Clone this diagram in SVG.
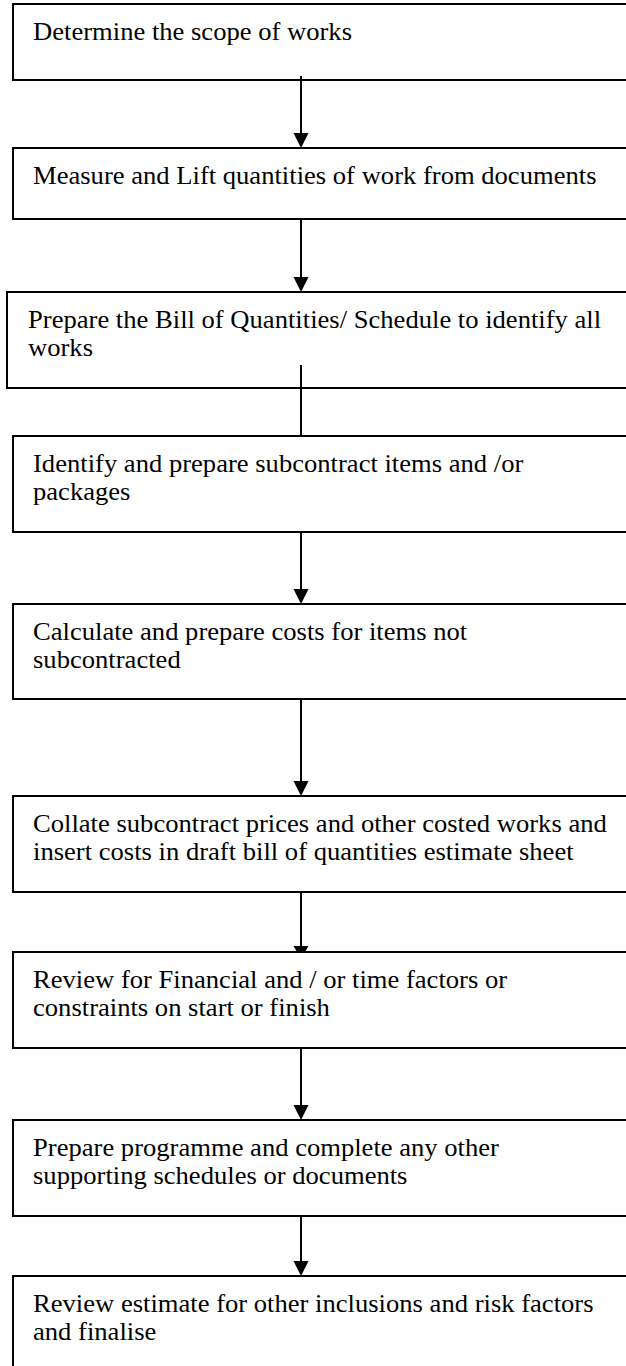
<svg xmlns="http://www.w3.org/2000/svg" width="626" height="1366" viewBox="0 0 626 1366">
<style>
.box{fill:#fff;stroke:#000;stroke-width:2}
.t{font-family:"Liberation Serif","Times New Roman",serif;font-size:24.5px;fill:#000}
.c{stroke:#000;stroke-width:2;fill:none}
.h{fill:#000;stroke:none}
</style>
<rect width="626" height="1366" fill="#fff"/>
<g id="n1"><rect class="box" x="13" y="4" width="630" height="76"/><text class="t" transform="scale(1.086 1)" x="30.4" y="40">Determine the scope of works</text></g>
<g id="n2"><rect class="box" x="13" y="148" width="630" height="71"/><text class="t" transform="scale(1.086 1)" x="30.4" y="184">Measure and Lift quantities of work from documents</text></g>
<g id="n3"><rect class="box" x="7" y="292" width="636" height="96"/><text class="t" transform="scale(1.086 1)" x="25.8" y="328">Prepare the Bill of Quantities/ Schedule to identify all</text><text class="t" transform="scale(1.086 1)" x="25.8" y="356">works</text></g>
<g id="n4"><rect class="box" x="13" y="436" width="630" height="96"/><text class="t" transform="scale(1.086 1)" x="30.4" y="472">Identify and prepare subcontract items and /or</text><text class="t" transform="scale(1.086 1)" x="30.4" y="500">packages</text></g>
<g id="n5"><rect class="box" x="13" y="604" width="630" height="95"/><text class="t" transform="scale(1.086 1)" x="30.4" y="640">Calculate and prepare costs for items not</text><text class="t" transform="scale(1.086 1)" x="30.4" y="668">subcontracted</text></g>
<g id="n6"><rect class="box" x="13" y="796" width="630" height="96"/><text class="t" transform="scale(1.086 1)" x="30.4" y="832">Collate subcontract prices and other costed works and</text><text class="t" transform="scale(1.086 1)" x="30.4" y="860">insert costs in draft bill of quantities estimate sheet</text></g>
<g id="n7"><rect class="box" x="13" y="952" width="630" height="96"/><text class="t" transform="scale(1.086 1)" x="30.4" y="988">Review for Financial and / or time factors or</text><text class="t" transform="scale(1.086 1)" x="30.4" y="1016">constraints on start or finish</text></g>
<g id="n8"><rect class="box" x="13" y="1120" width="630" height="96"/><text class="t" transform="scale(1.086 1)" x="30.4" y="1156">Prepare programme and complete any other</text><text class="t" transform="scale(1.086 1)" x="30.4" y="1184">supporting schedules or documents</text></g>
<g id="n9"><rect class="box" x="13" y="1276" width="630" height="110"/><text class="t" transform="scale(1.086 1)" x="30.4" y="1312">Review estimate for other inclusions and risk factors</text><text class="t" transform="scale(1.086 1)" x="30.4" y="1340">and finalise</text></g>
<g id="connectors">
<line class="c" x1="301" y1="76" x2="301" y2="134"/><polygon class="h" points="293.5,133 308.5,133 301,148"/>
<line class="c" x1="301" y1="219" x2="301" y2="278"/><polygon class="h" points="293.5,277 308.5,277 301,292"/>
<line class="c" x1="301" y1="365" x2="301" y2="436"/>
<line class="c" x1="301" y1="532" x2="301" y2="590"/><polygon class="h" points="293.5,589 308.5,589 301,604"/>
<line class="c" x1="301" y1="699" x2="301" y2="782"/><polygon class="h" points="293.5,781 308.5,781 301,796"/>
<line class="c" x1="301" y1="892" x2="301" y2="947"/><polygon class="h" points="293.5,946 308.5,946 305.5,951 296.5,951"/>
<line class="c" x1="301" y1="1048" x2="301" y2="1106"/><polygon class="h" points="293.5,1105 308.5,1105 301,1120"/>
<line class="c" x1="301" y1="1216" x2="301" y2="1262"/><polygon class="h" points="293.5,1261 308.5,1261 301,1276"/>
</g>
</svg>
